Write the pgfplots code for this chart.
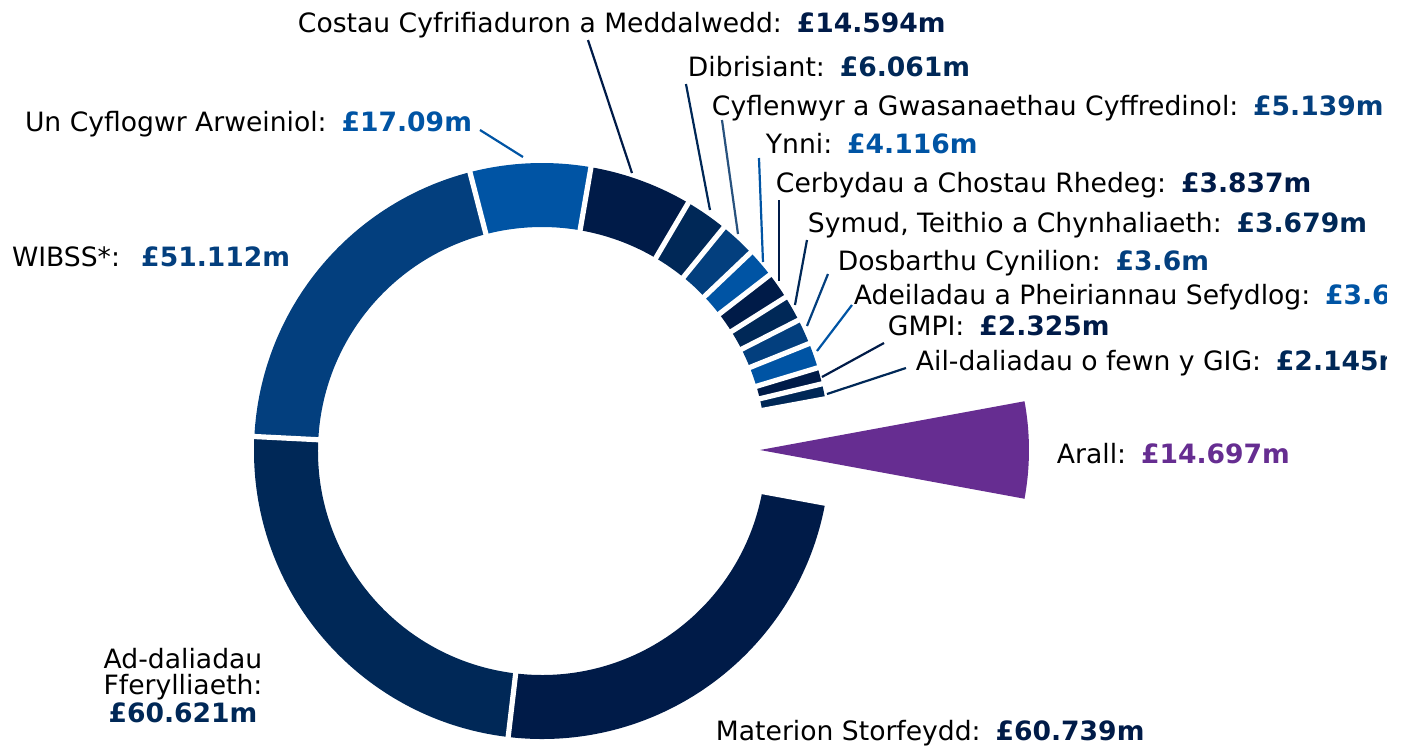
\documentclass[border=0pt]{standalone}
\usepackage{pgfplots}
\pgfplotsset{compat=1.18}
\usepackage{pgfplotstable}
\usepackage{fontspec}
\setmainfont{DejaVu Sans}
\definecolor{cA}{HTML}{001B48}
\definecolor{cB}{HTML}{002857}
\definecolor{cC}{HTML}{033F7E}
\definecolor{cD}{HTML}{0054A4}
\definecolor{cP}{HTML}{662D91}
\newcommand\sep{\hspace{0.56em}}

% ring slices, counter-clockwise starting just above "Arall"
\pgfplotstableread{
value col
2.145 cB
2.325 cA
3.6 cD
3.6 cC
3.679 cB
3.837 cA
4.116 cD
5.139 cC
6.061 cB
14.594 cA
17.09 cD
51.112 cC
60.621 cB
60.739 cA
}\ringtable
\def\arall{14.697}

\pgfmathsetmacro\total{\arall}
\pgfplotsforeachungrouped \i in {0,...,13}{%
  \pgfplotstablegetelem{\i}{value}\of\ringtable
  \pgfmathsetmacro\total{\total+\pgfplotsretval}%
}
\pgfmathsetmacro\halfarall{(\arall/\total)*180}
\edef\curangle{\halfarall}
\pgfplotsforeachungrouped \i in {0,...,13}{%
  \pgfplotstablegetelem{\i}{value}\of\ringtable
  \expandafter\xdef\csname sa\i\endcsname{\curangle}%
  \pgfmathsetmacro\curangle{\curangle+(\pgfplotsretval/\total)*360}%
  \expandafter\xdef\csname ea\i\endcsname{\curangle}%
  \pgfplotstablegetelem{\i}{col}\of\ringtable
  \expandafter\xdef\csname col\i\endcsname{\pgfplotsretval}%
}

\begin{document}
\begin{tikzpicture}[every node/.style={font=\fontsize{13.3bp}{16bp}\selectfont, inner sep=0pt, outer sep=0pt}]
\useasboundingbox (0,0) rectangle (702bp,373bp);
\begin{axis}[at={(0,0)}, anchor=south west, x=0.5bp, y=0.5bp,
  xmin=0, xmax=1404, ymin=0, ymax=746, hide axis, clip=false]
% ring slices
\pgfplotsinvokeforeach{0,...,13}{%
  \edef\tmp{\noexpand\fill[\csname col#1\endcsname]
    (axis cs:{542+288*cos(\csname sa#1\endcsname)},{295+288*sin(\csname sa#1\endcsname)})
    arc[start angle=\csname sa#1\endcsname, end angle=\csname ea#1\endcsname, radius=144bp]
    -- (axis cs:{542+224*cos(\csname ea#1\endcsname)},{295+224*sin(\csname ea#1\endcsname)})
    arc[start angle=\csname ea#1\endcsname, end angle=\csname sa#1\endcsname, radius=112bp]
    -- cycle;}%
  \tmp
}
% white gaps between slices
\pgfplotsinvokeforeach{0,...,13}{%
  \edef\tmp{\noexpand\draw[white, line width=2.6bp]
    (axis cs:{542+215*cos(\csname sa#1\endcsname)},{295+215*sin(\csname sa#1\endcsname)})
    -- (axis cs:{542+298*cos(\csname sa#1\endcsname)},{295+298*sin(\csname sa#1\endcsname)});}%
  \tmp
}
\edef\tmp{\noexpand\draw[white, line width=2.6bp]
    (axis cs:{542+215*cos(\csname ea13\endcsname)},{295+215*sin(\csname ea13\endcsname)})
    -- (axis cs:{542+298*cos(\csname ea13\endcsname)},{295+298*sin(\csname ea13\endcsname)});}
\tmp
% exploded "Arall" wedge
\edef\tmp{\noexpand\fill[cP] (axis cs:760,296)
   -- (axis cs:{760+269*cos(-\halfarall)},{296+269*sin(-\halfarall)})
   arc[start angle=-\halfarall, end angle=\halfarall, radius=134.5bp] -- cycle;}
\tmp

% leader lines
\draw[cA, line width=1.1bp] (axis cs:588,706) -- (axis cs:632,573);
\draw[cB, line width=1.1bp] (axis cs:686,662) -- (axis cs:710,536);
\draw[cC!70!gray, line width=1.1bp] (axis cs:722,626) -- (axis cs:738,512);
\draw[cD, line width=1.1bp] (axis cs:759,588) -- (axis cs:763,484);
\draw[cA, line width=1.1bp] (axis cs:779,546) -- (axis cs:779,465);
\draw[cB, line width=1.1bp] (axis cs:807,506) -- (axis cs:795,441);
\draw[cC, line width=1.1bp] (axis cs:828,472) -- (axis cs:807,420);
\draw[cD, line width=1.1bp] (axis cs:852,441) -- (axis cs:817,395);
\draw[cA, line width=1.1bp] (axis cs:884,403) -- (axis cs:822,369);
\draw[cB, line width=1.1bp] (axis cs:906,378) -- (axis cs:827,352);
\draw[cD, line width=1.1bp] (axis cs:480,616) -- (axis cs:523,589);

% labels (the chart's text area ends at x = 1387, as in the reference)
\begin{scope}
\clip (axis cs:0,0) rectangle (axis cs:1387,746);
\node[anchor=base west] at (axis cs:298,714) {Costau Cyfrifiaduron a Meddalwedd:\sep\textbf{\color{cA}£14.594m}};
\node[anchor=base west] at (axis cs:688,670) {Dibrisiant:\sep\textbf{\color{cB}£6.061m}};
\node[anchor=base west] at (axis cs:712,631) {Cyflenwyr a Gwasanaethau Cyffredinol:\sep\textbf{\color{cC}£5.139m}};
\node[anchor=base west] at (axis cs:766,593) {Ynni:\sep\textbf{\color{cD}£4.116m}};
\node[anchor=base west] at (axis cs:776,554) {Cerbydau a Chostau Rhedeg:\sep\textbf{\color{cA}£3.837m}};
\node[anchor=base west] at (axis cs:808,514) {Symud, Teithio a Chynhaliaeth:\sep\textbf{\color{cB}£3.679m}};
\node[anchor=base west] at (axis cs:838,476) {Dosbarthu Cynilion:\sep\textbf{\color{cC}£3.6m}};
\node[anchor=base west] at (axis cs:854,442) {Adeiladau a Pheiriannau Sefydlog:\sep\textbf{\color{cD}£3.6m}};
\node[anchor=base west] at (axis cs:888,411) {GMPI:\sep\textbf{\color{cA}£2.325m}};
\node[anchor=base west] at (axis cs:916,376) {Ail-daliadau o fewn y GIG:\sep\textbf{\color{cB}£2.145m}};
\node[anchor=base west] at (axis cs:1057,283) {Arall:\sep\textbf{\color{cP}£14.697m}};
\node[anchor=base west] at (axis cs:716,5) {Materion Storfeydd:\sep\textbf{\color{cA}£60.739m}};
\node[anchor=base] at (axis cs:183,78) {Ad-daliadau};
\node[anchor=base] at (axis cs:183,51) {Fferylliaeth:};
\node[anchor=base] at (axis cs:183,23) {\textbf{\color{cB}£60.621m}};
\node[anchor=base west] at (axis cs:12,480) {WIBSS*:\hspace{0.8em}\textbf{\color{cC}£51.112m}};
\node[anchor=base west] at (axis cs:25,615) {Un Cyflogwr Arweiniol:\sep\textbf{\color{cD}£17.09m}};
\end{scope}
\end{axis}
\end{tikzpicture}
\end{document}
